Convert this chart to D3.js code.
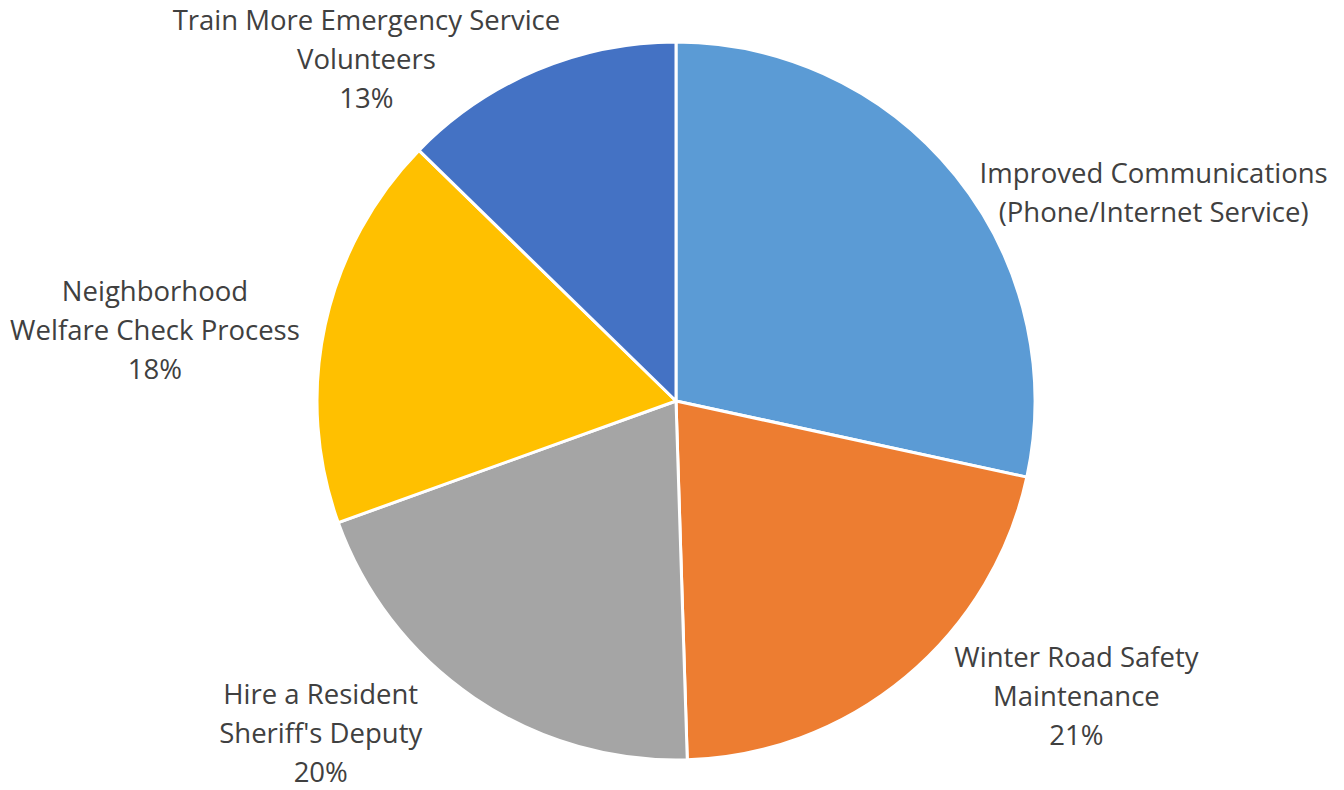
<!DOCTYPE html>
<html>
<head>
<meta charset="utf-8">
<script src="https://cdn.jsdelivr.net/npm/d3@7"></script>
<style>
    body { margin: 0; background: #fff; }
    #pie text { font-family: "Open Sans", sans-serif; font-size: 27.5px; fill: #404040; }
</style>
</head>
<body>
<div id="pie"></div>
<script>
// survey answers, clockwise from 12 o'clock
const categories = [
    ['Improved Communications', '(Phone/Internet Service)'],
    ['Winter Road Safety', 'Maintenance'],
    ['Hire a Resident', "Sheriff's Deputy"],
    ['Neighborhood', 'Welfare Check Process'],
    ['Train More Emergency Service', 'Volunteers']
]
const shares = [28.4, 21.1, 20.0, 17.8, 12.7]
// the first slice has no percentage on its label in the original
const showPercent = [false, true, true, true, true]
const colors = ['#5B9BD5', '#ED7D31', '#A5A5A5', '#FFC000', '#4472C4']

// hand placement of labels (offset from the outside anchor), like in the source sheet
const labelNudge = [[51, 51], [83, -37], [-88, -26], [-14, 21], [-89, 57]]

const svgWidth = 1344
const svgHeight = 790
const cx = 676
const cy = 401
const radius = 359
const lineHeight = 39
const pad = 15

const svg = d3.select('#pie')
    .append('svg')
    .attr('width', svgWidth)
    .attr('height', svgHeight)

const g = svg.append('g')
    .attr('transform', `translate(${cx},${cy})`)

const pie = d3.pie()
    .sort(null)
    .value(d => d)

const arcs = pie(shares)

const arc = d3.arc()
    .innerRadius(0)
    .outerRadius(radius)

g.selectAll('path')
    .data(arcs)
    .join('path')
    .attr('d', arc)
    .attr('fill', (d, i) => colors[i])
    .attr('stroke', '#fff')
    .attr('stroke-width', 3)
    .attr('stroke-linejoin', 'round')

////////////////////////////////////
///////////// labels ///////////////
////////////////////////////////////

const total = d3.sum(shares)

arcs.forEach((d, i) => {
    let lines = categories[i].slice()
    if (showPercent[i]) lines.push(d3.format('.0%')(d.value / total))

    let label = g.append('text')
        .attr('text-anchor', 'middle')

    let tspans = label.selectAll('tspan')
        .data(lines)
        .join('tspan')
        .attr('x', 0)
        .attr('y', (l, j) => j * lineHeight)
        .text(l => l)

    let w = d3.max(tspans.nodes(), n => n.getComputedTextLength())
    let h = lines.length * lineHeight

    // outward unit vector at the middle of the slice
    let mid = (d.startAngle + d.endAngle) / 2
    let ux = Math.sin(mid)
    let uy = -Math.cos(mid)

    let px = ux * (radius + pad) + ux * w / 2 + labelNudge[i][0]
    let py = uy * (radius + pad) + uy * h / 2 + labelNudge[i][1]

    // py is the block centre; first baseline sits above it
    let firstBaseline = py - (lines.length - 1) * lineHeight / 2 + 10

    label.attr('transform', `translate(${px},${firstBaseline})`)
})
</script>
</body>
</html>
